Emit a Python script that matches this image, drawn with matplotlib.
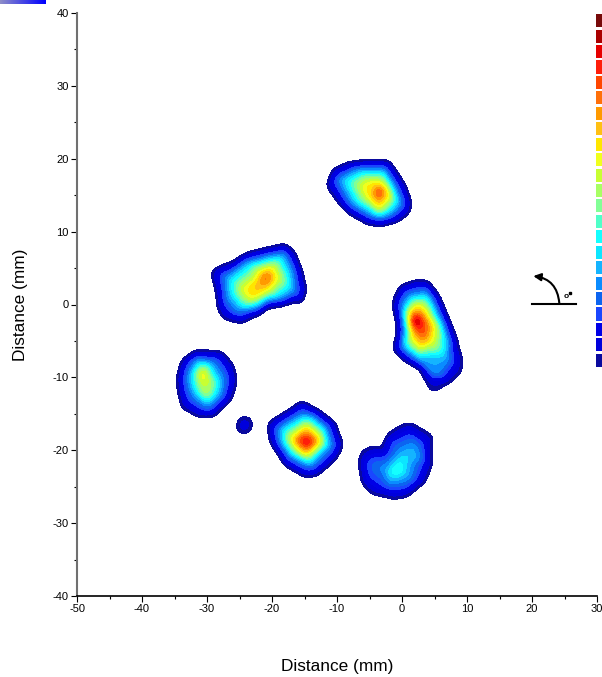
import numpy as np
import matplotlib
matplotlib.use('Agg')
import matplotlib.pyplot as plt
from matplotlib.colors import ListedColormap, BoundaryNorm, LinearSegmentedColormap
from matplotlib.tri import Triangulation, LinearTriInterpolator

plt.rcParams['font.family'] = ['Liberation Sans', 'DejaVu Sans']
plt.rcParams['axes.unicode_minus'] = False

# legend swatches, bottom to top
band_colors = ['#0a0a9e', '#0000dc', '#0000e6', '#1a46ff', '#0c64f0', '#0a8cff',
               '#14b4ff', '#0ce6ff', '#14ffff', '#50ffc8', '#82ff96', '#a8ff64',
               '#c8ff32', '#f0ff1e', '#ffe600', '#ffc014', '#ff9a00', '#ff700a',
               '#ff4600', '#ff1e0a', '#e60000', '#aa0000', '#780a0a']

x_ticks = [-50, -40, -30, -20, -10, 0, 10, 20, 30]
y_ticks = [-40, -30, -20, -10, 0, 10, 20, 30, 40]

# top spot
top_x = [-12.2, -10.6, -8.5, -5.4, -2.1, -0.8, 0.5, 1.4, 1.0, -0.6, -3.4, -5.4, -8.0, -10.0, -11.6,
         -9.5, -6.5, -2.9, -1.3, -0.3, -1.8, -4.4, -7.5,
         -5.7, -4.1, -2.6, -2.1, -3.6, -4.9, -3.5]
top_y = [17.1, 18.5, 19.3, 19.6, 19.6, 18.0, 16.2, 13.9, 12.5, 11.5, 10.9, 11.2, 12.5, 14.3, 16.2,
         17.1, 18.5, 18.5, 16.2, 13.9, 12.5, 12.3, 13.9,
         16.2, 16.7, 16.0, 15.0, 13.4, 14.8, 15.6]
top_z = [0] * 15 + [6] * 8 + [14.5] * 6 + [20]

# right spot
right_x = [-0.3, 2.3, 3.8, 5.6, 7.1, 8.4, 9.3, 9.2, 7.4, 5.3, 4.1, 3.5, 2.8, 0.2, -1.3, -0.7, -0.6, -1.3, -1.1,
           1.2, 3.8, 5.6, 7.1, 6.9, 5.1, 2.8, 0.2, 0.5, 0.2,
           5.1, 7.9,
           1.2, 2.3, 3.5, 4.8, 4.3, 3.0, 1.7, 1.1,
           1.5, 2.3, 3.3, 3.3, 2.5, 2.2]
right_y = [2.5, 3.3, 3.2, 1.1, -2.1, -4.9, -7.6, -9.4, -10.8, -12.2, -12.1, -10.3, -8.7, -7.4, -6.0, -4.4, -3.0, -0.3, 1.1,
           1.1, 1.5, -1.7, -5.3, -7.4, -9.4, -7.6, -5.8, -3.0, -0.3,
           -10.3, -8.1,
           -1.2, -0.3, -1.0, -3.0, -4.9, -5.8, -4.4, -2.6,
           -2.1, -1.4, -2.6, -3.9, -3.5, -2.3]
right_z = [0] * 19 + [6] * 10 + [2, 3] + [14.5] * 8 + [19] * 5 + [24]

# left spot
left_x = [-29.4, -27.5, -25.4, -23.9, -20.8, -18.0, -16.5, -15.4, -14.7, -14.4, -15.4, -16.7, -18.8, -20.8, -22.4, -24.7, -27.5, -28.3, -28.5,
          -27.0, -23.9, -18.3, -17.0, -16.7, -18.8, -21.8, -24.9, -26.7,
          -24.2, -21.8, -20.1, -19.3, -20.8, -23.1,
          -20.9, -22.2]
left_y = [4.5, 5.4, 6.0, 6.9, 7.6, 8.2, 7.0, 4.5, 2.0, 0.2, 0.2, 0.5, -0.05, -0.3, -1.4, -2.5, -1.9, -0.7, 1.5,
          3.6, 5.7, 6.8, 4.3, 2.0, 0.9, -0.05, -0.7, 1.1,
          2.0, 4.5, 5.0, 3.6, 2.0, 0.9,
          3.7, 2.5]
left_z = [0] * 19 + [6] * 9 + [14] * 6 + [19, 16]

# far left spot
far_x = [-34.6, -33.9, -31.6, -27.7, -25.9, -25.4, -26.2, -29.0, -31.6, -33.9, -34.4,
         -32.6, -31.3, -29.3, -27.7, -28.0, -29.8, -31.9, -32.6,
         -31.3, -30.3, -29.5, -30.1, -30.8, -30.7]
far_y = [-10.1, -7.8, -6.4, -6.5, -8.3, -10.6, -12.9, -15.3, -15.3, -14.2, -12.2,
         -9.4, -7.6, -8.1, -10.4, -12.2, -13.8, -12.4, -11.0,
         -9.4, -8.8, -10.8, -12.4, -11.3, -9.3]
far_z = [0] * 11 + [6] * 8 + [12] * 5 + [15.5]

# small dot
dot_x = [-25.6, -25.2, -24.2, -23.1, -22.9, -23.4, -25.2, -24.2]
dot_y = [-16.8, -15.6, -15.3, -15.6, -16.7, -17.6, -17.8, -16.5]
dot_z = [0] * 7 + [2.5]

# lower middle spot
mid_x = [-20.6, -18.0, -15.4, -13.1, -10.3, -9.1, -10.3, -13.1, -14.9, -18.0, -19.0, -20.3,
         -18.8, -15.2, -11.8, -11.1, -14.2, -17.2, -18.5,
         -17.0, -14.7, -12.6, -14.7,
         -16.0, -14.7, -13.5, -14.7, -14.8]
mid_y = [-16.3, -14.9, -13.3, -14.5, -16.3, -19.3, -21.3, -23.4, -23.6, -22.0, -20.4, -18.6,
         -17.2, -15.2, -17.0, -19.3, -22.0, -20.6, -19.0,
         -18.4, -16.8, -18.8, -20.6,
         -18.6, -17.9, -18.8, -19.7, -18.9]
mid_z = [0] * 12 + [6] * 7 + [14] * 4 + [18.5] * 4 + [22]

# bottom right spot
low_x = [-6.7, -6.2, -4.9, -3.1, -1.85, -0.05, 1.5, 4.8, 4.6, 3.8, 0.7, -1.3, -4.9, -6.2,
         -5.4, -3.9, -1.85, 1.2, 3.3, 3.0, 0.7, -2.9, -5.2,
         -2.4, -0.3, 1.75, 2.5, 1.0, -1.6,
         -2.1, 0.2, -0.8, -5.1]
low_y = [-21.6, -20.0, -19.4, -19.6, -17.4, -16.4, -16.2, -17.9, -22.2, -24.1, -26.4, -26.7, -26.0, -24.5,
         -21.6, -20.9, -19.0, -17.7, -19.0, -22.2, -25.2, -25.0, -23.6,
         -22.5, -20.4, -19.5, -20.9, -23.6, -24.3,
         -22.9, -21.3, -22.7, -21.7]
low_z = [0] * 14 + [3] * 9 + [6] * 6 + [8, 8, 10, 4]

spots = [(top_x, top_y, top_z), (right_x, right_y, right_z), (left_x, left_y, left_z),
         (far_x, far_y, far_z), (dot_x, dot_y, dot_z), (mid_x, mid_y, mid_z), (low_x, low_y, low_z)]

# put the read-off points on one grid and soften it, the contours in the original are round
gx = np.arange(-40, 15, 0.1)
gy = np.arange(-32, 25, 0.1)
GX, GY = np.meshgrid(gx, gy)
field = np.zeros_like(GX)
for sx, sy, sz in spots:
    interp = LinearTriInterpolator(Triangulation(sx, sy), sz)
    field = np.maximum(field, np.ma.filled(interp(GX, GY), 0.0))

kx = np.arange(-15, 16) * 0.1
kernel = np.exp(-0.5 * (kx / 0.45) ** 2)
kernel = kernel / kernel.sum()
field = np.apply_along_axis(lambda v: np.convolve(v, kernel, mode='same'), 0, field)
field = np.apply_along_axis(lambda v: np.convolve(v, kernel, mode='same'), 1, field)

W, H = 602, 677
fig = plt.figure(figsize=(W / 100, H / 100), dpi=100)
ax = fig.add_axes([77 / W, (H - 596) / H, 520 / W, 583 / H])

levels = [0.35] + list(range(1, len(band_colors) + 1))
cmap = ListedColormap(band_colors)
norm = BoundaryNorm(levels, cmap.N)
ax.contourf(GX, GY, field, levels=levels, cmap=cmap, norm=norm)

ax.set_xlim(-50, 30)
ax.set_ylim(-40, 40)
ax.set_xticks(x_ticks)
ax.set_yticks(y_ticks)
ax.set_xticks(np.arange(-45, 30, 10), minor=True)
ax.set_yticks(np.arange(-35, 40, 10), minor=True)
ax.tick_params(which='major', length=4, width=0.8, labelsize=8, pad=2)
ax.tick_params(which='minor', length=2, width=0.8)
ax.spines['top'].set_visible(False)
ax.spines['right'].set_visible(False)
ax.spines['left'].set_color('#707070')
ax.spines['left'].set_linewidth(1.5)
ax.spines['bottom'].set_linewidth(1.2)
ax.set_xlabel('Distance (mm)', fontsize=12.4, labelpad=32)
ax.set_ylabel('Distance (mm)', fontsize=12.4, labelpad=18)

# angle symbol
ax.plot([20, 26.8], [0.1, 0.1], color='black', lw=1.5)
ax.annotate('', xy=(20.2, 3.9), xytext=(24.2, 0.2),
            arrowprops=dict(arrowstyle='-|>', color='black', lw=1.5, mutation_scale=11,
                            connectionstyle='arc3,rad=0.4', shrinkA=0, shrinkB=0))
ax.text(25.3, 1.1, 'o', fontsize=6, fontweight='bold', ha='center', va='center')
ax.plot([25.8], [1.6], 's', color='black', ms=1.5)

# colour key, labels are cut off at the right edge
key = fig.add_axes([596 / W, (H - 368) / H, 6 / W, 355 / H])
key.barh(np.arange(len(band_colors)), [1] * len(band_colors), height=0.85, color=band_colors)
key.set_xlim(0, 1)
key.set_ylim(-0.5, len(band_colors) - 0.5)
key.axis('off')

# strip left at the top corner
strip = fig.add_axes([0, (H - 4) / H, 46 / W, 4 / H])
strip_cmap = LinearSegmentedColormap.from_list('strip', ['#8c8cc8', '#0000ff'])
strip.imshow(np.linspace(0, 1, 46).reshape(1, -1), aspect='auto', cmap=strip_cmap)
strip.axis('off')

fig.savefig('out.png', dpi=100)
